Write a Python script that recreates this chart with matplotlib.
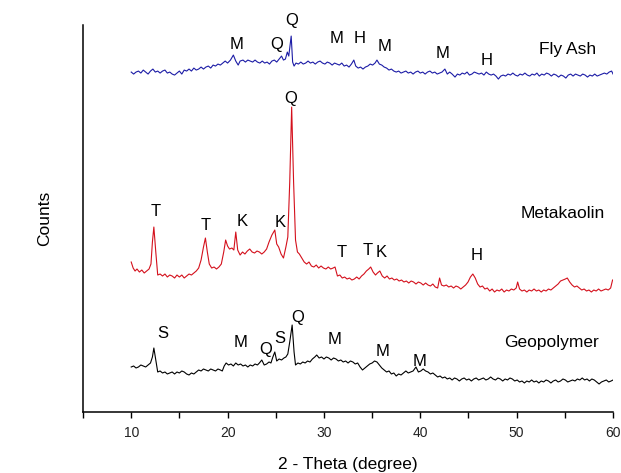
import matplotlib
matplotlib.use("Agg")
import matplotlib.pyplot as plt
from matplotlib.ticker import MultipleLocator

plt.rcParams['font.family'] = ['Liberation Sans', 'DejaVu Sans']

# XRD patterns, counts in arbitrary units (offset stacked)
fly_ash_2theta = [
    10.0, 10.25, 10.5, 10.75, 11.0, 11.25, 11.5, 11.75, 12.0, 12.25, 12.5, 12.75,
    13.0, 13.25, 13.5, 13.75, 14.0, 14.25, 14.5, 14.75, 15.0, 15.25, 15.5, 15.75,
    16.0, 16.25, 16.5, 16.75, 17.0, 17.25, 17.5, 17.75, 18.0, 18.25, 18.5, 18.75,
    19.0, 19.25, 19.5, 19.75, 20.0, 20.3, 20.6, 20.85, 21.1, 21.3, 21.6, 21.85,
    22.1, 22.35, 22.6, 22.85, 23.1, 23.35, 23.6, 23.85, 24.1, 24.35, 24.6, 24.85,
    25.1, 25.35, 25.6, 25.8, 26.0, 26.2, 26.35, 26.6, 26.75, 26.9, 27.1, 27.35,
    27.6, 27.85, 28.1, 28.35, 28.6, 28.85, 29.1, 29.35, 29.6, 29.85, 30.1, 30.35,
    30.6, 30.85, 31.1, 31.35, 31.6, 31.85, 32.1, 32.35, 32.6, 32.85, 33.1, 33.3,
    33.55, 33.8, 34.05, 34.3, 34.55, 34.8, 35.05, 35.3, 35.5, 35.75, 36.0, 36.25,
    36.5, 36.75, 37.0, 37.25, 37.5, 37.75, 38.0, 38.25, 38.5, 38.75, 39.0, 39.25,
    39.5, 39.75, 40.0, 40.25, 40.5, 40.75, 41.0, 41.25, 41.5, 41.75, 42.0, 42.25,
    42.55, 42.8, 43.05, 43.3, 43.6, 43.85, 44.1, 44.35, 44.6, 44.85, 45.1, 45.35,
    45.6, 45.85, 46.1, 46.35, 46.6, 46.85, 47.1, 47.35, 47.6, 47.85, 48.1, 48.35,
    48.6, 48.85, 49.1, 49.35, 49.6, 49.85, 50.1, 50.35, 50.6, 50.85, 51.1, 51.35,
    51.6, 51.85, 52.1, 52.35, 52.6, 52.85, 53.1, 53.35, 53.6, 53.85, 54.1, 54.35,
    54.6, 54.85, 55.1, 55.35, 55.6, 55.85, 56.1, 56.35, 56.6, 56.85, 57.1, 57.35,
    57.6, 57.85, 58.1, 58.35, 58.6, 58.85, 59.1, 59.35, 59.6, 59.85, 60.0]
fly_ash_counts = [
    340, 338, 340, 341, 339, 342, 340, 338, 341, 343, 340, 341,
    339, 341, 342, 339, 340, 338, 337, 339, 341, 338, 342, 341,
    343, 341, 344, 342, 343, 345, 343, 345, 346, 344, 347, 346,
    348, 347, 349, 351, 349, 352, 357, 351, 347, 351, 352, 350,
    352, 351, 350, 352, 350, 349, 351, 349, 350, 348, 351, 352,
    350, 353, 356, 352, 353, 360, 356, 376, 350, 346, 349, 348,
    350, 348, 349, 351, 349, 350, 348, 350, 351, 349, 348, 350,
    349, 347, 349, 348, 347, 349, 346, 347, 345, 348, 352, 346,
    344, 345, 343, 345, 346, 348, 347, 349, 352, 348, 347, 345,
    344, 342, 343, 341, 340, 341, 339, 340, 341, 339, 340, 338,
    340, 341, 339, 340, 338, 340, 341, 339, 340, 338, 339, 340,
    343, 338, 340, 338, 335, 338, 337, 339, 338, 340, 337, 338,
    340, 339, 338, 339, 337, 340, 338, 337, 338, 336, 333, 336,
    337, 336, 338, 337, 339, 337, 336, 338, 337, 339, 337, 336,
    338, 337, 339, 336, 338, 337, 339, 338, 336, 338, 337, 335,
    337, 336, 334, 337, 338, 336, 338, 337, 336, 338, 337, 335,
    337, 336, 338, 336, 337, 338, 339, 338, 340, 341, 338]

metakaolin_2theta = [
    10.0, 10.2, 10.4, 10.6, 10.85, 11.1, 11.35, 11.6, 11.85, 12.05, 12.2, 12.35,
    12.55, 12.75, 13.0, 13.25, 13.5, 13.75, 14.0, 14.25, 14.5, 14.75, 15.0, 15.25,
    15.5, 15.75, 16.0, 16.25, 16.5, 16.75, 17.0, 17.25, 17.5, 17.7, 17.9, 18.1,
    18.35, 18.6, 18.85, 19.1, 19.35, 19.6, 19.8, 20.0, 20.2, 20.45, 20.65, 20.85,
    21.05, 21.3, 21.55, 21.8, 22.05, 22.3, 22.55, 22.8, 23.05, 23.3, 23.55, 23.8,
    24.05, 24.3, 24.6, 24.9, 25.1, 25.3, 25.55, 25.8, 26.05, 26.25, 26.45, 26.65,
    26.85, 27.05, 27.25, 27.45, 27.7, 27.95, 28.2, 28.45, 28.7, 28.95, 29.2, 29.45,
    29.7, 29.95, 30.2, 30.45, 30.7, 30.95, 31.15, 31.4, 31.65, 31.9, 32.15, 32.4,
    32.65, 32.9, 33.15, 33.4, 33.65, 33.9, 34.15, 34.4, 34.65, 34.85, 35.1, 35.35,
    35.55, 35.8, 36.05, 36.3, 36.55, 36.8, 37.05, 37.3, 37.55, 37.8, 38.05, 38.3,
    38.55, 38.8, 39.05, 39.3, 39.55, 39.8, 40.05, 40.3, 40.55, 40.8, 41.05, 41.3,
    41.55, 41.8, 42.0, 42.2, 42.45, 42.7, 42.95, 43.2, 43.45, 43.7, 43.95, 44.2,
    44.45, 44.7, 44.95, 45.2, 45.45, 45.7, 45.95, 46.2, 46.45, 46.7, 46.95, 47.2,
    47.45, 47.7, 47.95, 48.2, 48.45, 48.7, 48.95, 49.2, 49.45, 49.7, 49.95, 50.1,
    50.3, 50.55, 50.8, 51.05, 51.3, 51.55, 51.8, 52.05, 52.3, 52.55, 52.8, 53.05,
    53.3, 53.55, 53.8, 54.05, 54.3, 54.55, 54.8, 55.05, 55.25, 55.5, 55.75, 56.0,
    56.25, 56.5, 56.75, 57.0, 57.25, 57.5, 57.75, 58.0, 58.25, 58.5, 58.75, 59.0,
    59.25, 59.5, 59.75, 59.95]
metakaolin_counts = [
    150, 144, 141, 143, 140, 142, 139, 141, 143, 148, 170, 185,
    160, 137, 138, 136, 138, 135, 137, 136, 134, 137, 135, 137,
    134, 136, 138, 137, 139, 141, 144, 152, 165, 174, 160, 148,
    144, 145, 143, 145, 148, 160, 172, 166, 163, 164, 162, 180,
    162, 157, 160, 158, 161, 163, 160, 159, 161, 160, 158, 160,
    163, 170, 177, 182, 168, 165, 158, 154, 165, 175, 230, 305,
    230, 172, 160, 158, 154, 150, 148, 150, 146, 145, 147, 144,
    146, 144, 143, 145, 143, 144, 145, 136, 137, 134, 135, 133,
    134, 132, 133, 135, 133, 136, 138, 141, 143, 145, 140, 137,
    139, 141, 136, 134, 136, 133, 134, 132, 133, 131, 132, 130,
    131, 129, 131, 130, 128, 130, 129, 127, 129, 127, 126, 128,
    125, 124, 134, 127, 126, 127, 125, 126, 124, 126, 125, 123,
    125, 127, 130, 135, 138, 134, 128, 125, 126, 123, 124, 121,
    123, 120, 122, 121, 123, 120, 122, 121, 123, 122, 124, 130,
    123, 121, 122, 120, 122, 121, 123, 121, 122, 120, 122, 121,
    123, 122, 124, 126, 128, 131, 132, 133, 134, 130, 127, 125,
    126, 124, 122, 123, 121, 122, 120, 122, 121, 123, 121, 122,
    123, 122, 124, 132]

geopolymer_2theta = [
    10.0, 10.25, 10.5, 10.75, 11.0, 11.25, 11.5, 11.75, 12.0, 12.2, 12.35, 12.55,
    12.75, 13.0, 13.25, 13.5, 13.75, 14.0, 14.25, 14.5, 14.75, 15.0, 15.25, 15.5,
    15.75, 16.0, 16.25, 16.5, 16.75, 17.0, 17.25, 17.5, 17.75, 18.0, 18.25, 18.5,
    18.75, 19.0, 19.25, 19.45, 19.65, 19.85, 20.1, 20.35, 20.6, 20.85, 21.1, 21.35,
    21.6, 21.85, 22.1, 22.35, 22.6, 22.85, 23.1, 23.3, 23.55, 23.8, 24.05, 24.3,
    24.5, 24.7, 24.9, 25.1, 25.35, 25.6, 25.85, 26.05, 26.25, 26.45, 26.7, 26.9,
    27.05, 27.3, 27.55, 27.8, 28.05, 28.3, 28.55, 28.8, 29.05, 29.25, 29.5, 29.75,
    30.0, 30.25, 30.5, 30.75, 31.0, 31.25, 31.5, 31.75, 32.0, 32.25, 32.5, 32.75,
    33.0, 33.25, 33.5, 33.75, 34.0, 34.25, 34.5, 34.75, 35.0, 35.25, 35.5, 35.75,
    36.0, 36.25, 36.5, 36.75, 37.0, 37.25, 37.5, 37.75, 38.0, 38.25, 38.5, 38.75,
    39.0, 39.25, 39.55, 39.8, 40.05, 40.3, 40.55, 40.8, 41.05, 41.3, 41.55, 41.8,
    42.05, 42.3, 42.55, 42.8, 43.05, 43.3, 43.55, 43.8, 44.05, 44.3, 44.55, 44.8,
    45.05, 45.3, 45.55, 45.8, 46.05, 46.3, 46.55, 46.8, 47.05, 47.3, 47.55, 47.8,
    48.05, 48.3, 48.55, 48.8, 49.05, 49.3, 49.55, 49.8, 50.05, 50.3, 50.55, 50.8,
    51.05, 51.3, 51.55, 51.8, 52.05, 52.3, 52.55, 52.8, 53.05, 53.3, 53.55, 53.8,
    54.05, 54.3, 54.55, 54.8, 55.05, 55.3, 55.55, 55.8, 56.05, 56.3, 56.55, 56.8,
    57.05, 57.3, 57.55, 57.8, 58.05, 58.3, 58.55, 58.8, 59.05, 59.3, 59.55, 59.8,
    60.0]
geopolymer_counts = [
    45, 46, 44, 45, 47, 46, 45, 47, 49, 55, 64, 52,
    40, 41, 39, 40, 38, 39, 40, 38, 40, 39, 41, 40,
    38, 37, 39, 38, 40, 42, 41, 43, 42, 41, 43, 42,
    41, 43, 42, 41, 46, 49, 47, 48, 46, 49, 47, 48,
    46, 47, 45, 47, 46, 48, 47, 49, 52, 47, 48, 50,
    49, 55, 60, 51, 53, 52, 54, 55, 58, 70, 87, 60,
    47, 49, 48, 50, 49, 51, 50, 53, 55, 57, 54, 55,
    53, 55, 54, 52, 54, 53, 51, 52, 50, 51, 49, 51,
    50, 48, 49, 45, 42, 44, 46, 48, 49, 51, 50, 47,
    44, 42, 40, 41, 38, 39, 36, 38, 37, 39, 41, 39,
    40, 41, 45, 40, 41, 43, 41, 40, 38, 39, 37, 35,
    36, 34, 35, 33, 34, 32, 34, 33, 31, 33, 34, 32,
    33, 31, 33, 34, 32, 33, 34, 32, 33, 35, 33, 32,
    34, 33, 31, 33, 32, 34, 33, 31, 32, 30, 31, 29,
    31, 30, 32, 30, 31, 29, 31, 30, 32, 31, 29, 31,
    32, 30, 31, 33, 32, 30, 31, 32, 31, 33, 32, 34,
    32, 33, 31, 33, 32, 30, 28, 30, 31, 32, 30, 31,
    32]

# phase labels: (text, 2theta, counts)
fly_ash_peaks = [("M", 20.98, 368), ("Q", 25.13, 368), ("Q", 26.68, 392),
                 ("M", 31.35, 374), ("H", 33.73, 374), ("M", 36.32, 366),
                 ("M", 42.33, 359), ("H", 46.89, 352)]
metakaolin_peaks = [("T", 12.49, 201), ("T", 17.77, 187), ("K", 21.47, 191),
                    ("K", 25.51, 190), ("Q", 26.55, 314), ("T", 31.83, 160),
                    ("T", 34.56, 162), ("K", 35.98, 160), ("H", 45.82, 157)]
geopolymer_peaks = [("S", 13.32, 79), ("M", 21.30, 69), ("Q", 23.96, 62),
                    ("S", 25.44, 73), ("Q", 27.27, 95), ("M", 31.14, 72),
                    ("M", 36.11, 60), ("M", 39.95, 50)]
sample_names = [("Fly Ash", 55.28, 363), ("Metakaolin", 54.77, 199),
                ("Geopolymer", 53.63, 69)]

fig = plt.figure(figsize=(6.21, 4.73), dpi=100)
ax = fig.add_axes([0.1337, 0.129, 0.8535, 0.818])

ax.plot(fly_ash_2theta, fly_ash_counts, color='#1c1ca6', lw=0.8)
ax.plot(metakaolin_2theta, metakaolin_counts, color='#d4101c', lw=0.8)
ax.plot(geopolymer_2theta, geopolymer_counts, color='black', lw=0.8)

for txt, x, y in fly_ash_peaks + metakaolin_peaks + geopolymer_peaks:
    ax.text(x, y, txt, ha='center', va='center', fontsize=12, color='black')
for txt, x, y in sample_names:
    ax.text(x, y, txt, ha='center', va='center', fontsize=12.5, color='black')

ax.set_xlim(5, 60)
ax.set_ylim(0, 387)
ax.xaxis.set_major_locator(MultipleLocator(10))
ax.xaxis.set_minor_locator(MultipleLocator(5))
ax.tick_params(axis='x', which='both', direction='out', length=4, width=1,
               labelsize=10, labelcolor='#222222', pad=6)
ax.set_yticks([])
for s in ['top', 'right']:
    ax.spines[s].set_visible(False)
ax.spines['left'].set_linewidth(1.1)
ax.spines['bottom'].set_linewidth(1.1)

ax.set_xlabel("2 - Theta (degree)", fontsize=12.5, labelpad=12)
ax.set_ylabel("Counts", fontsize=12.5, labelpad=22)

fig.savefig("out.png", dpi=100)
